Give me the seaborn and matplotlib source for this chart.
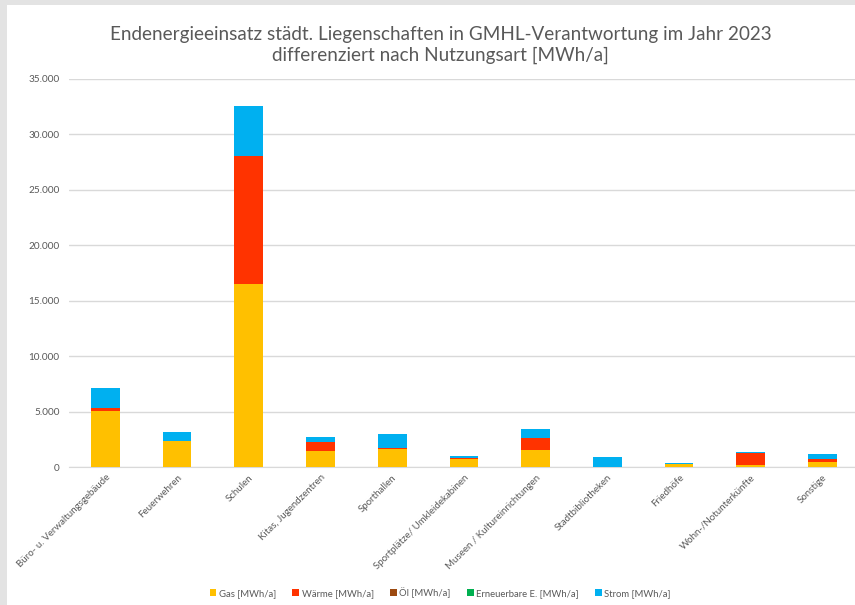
import matplotlib
matplotlib.use("Agg")
import matplotlib.pyplot as plt
import matplotlib.ticker as mticker
from matplotlib.patches import Rectangle
import numpy as np
import seaborn as sns

categories = ["Büro- u. Verwaltungsgebäude", "Feuerwehren", "Schulen",
              "Kitas, Jugendzentren", "Sporthallen", "Sportplätze/ Umkleidekabinen",
              "Museen / Kultureinrichtungen", "Stadtbibliotheken", "Friedhöfe",
              "Wohn-/Notunterkünfte", "Sonstige"]

gas = [5100, 2400, 16500, 1500, 1650, 800, 1550, 0, 350, 250, 470]
waerme = [280, 0, 11550, 780, 120, 80, 1080, 0, 0, 1050, 270]
oel = [0, 0, 0, 0, 0, 0, 0, 0, 0, 0, 0]
erneuerbare = [0, 0, 0, 0, 0, 0, 0, 0, 0, 0, 0]
strom = [1750, 780, 4500, 500, 1200, 150, 840, 900, 90, 70, 450]

series = [
    ("Gas [MWh/a]", gas, "#FFC000"),
    ("Wärme [MWh/a]", waerme, "#FF3300"),
    ("Öl [MWh/a]", oel, "#9C4A10"),
    ("Erneuerbare E. [MWh/a]", erneuerbare, "#00B050"),
    ("Strom [MWh/a]", strom, "#00B0F0"),
]

sns.set_style("white")
plt.rcParams["font.family"] = ["Lato", "DejaVu Sans"]
text_col = "#595959"

fig = plt.figure(figsize=(8.55, 6.05), dpi=100)
# grey frame on the left/top like the screenshot
fig.patches.append(Rectangle((0, 0), 1, 1, transform=fig.transFigure,
                             facecolor="#E3E3E3", edgecolor="none", zorder=-2))
fig.patches.append(Rectangle((7 / 855, 0), 1, 1 - 5 / 605, transform=fig.transFigure,
                             facecolor="white", edgecolor="none", zorder=-1))

ax = fig.add_axes([69.4 / 855, 0.2273, 789 / 855, 0.6429])
ax.set_facecolor("none")

bottom = np.zeros(len(categories))
for name, vals, col in series:
    sns.barplot(x=categories, y=vals, bottom=bottom, color=col, width=0.4,
                saturation=1, ax=ax, label=name, linewidth=0, zorder=3)
    bottom = bottom + np.array(vals)

handles, labels = ax.get_legend_handles_labels()
if ax.get_legend() is not None:
    ax.get_legend().remove()

ax.set_ylim(0, 35000)
ax.set_xlim(-0.5, len(categories) - 0.5)
ax.yaxis.set_major_locator(mticker.MultipleLocator(5000))
ax.yaxis.set_major_formatter(mticker.FuncFormatter(lambda v, p: f"{int(v):,}".replace(",", ".")))
ax.grid(axis="y", color="#D9D9D9", linewidth=1, zorder=0)
for s in ["top", "right", "left"]:
    ax.spines[s].set_visible(False)
ax.spines["bottom"].set_color("#D9D9D9")
ax.tick_params(axis="y", length=0, labelsize=7.2, labelcolor=text_col, pad=7)
ax.tick_params(axis="x", length=0, labelsize=7, labelcolor=text_col, pad=4)
plt.setp(ax.get_xticklabels(), rotation=45, ha="right", rotation_mode="anchor")

fig.text(0.515, 0.925, "Endenergieeinsatz städt. Liegenschaften in GMHL-Verantwortung im Jahr 2023\n"
         "differenziert nach Nutzungsart [MWh/a]", ha="center", va="center",
         fontsize=13.6, color=text_col, linespacing=1.25)

fig.legend(handles, labels, loc="center", bbox_to_anchor=(0.515, 0.021), ncol=5,
           frameon=False, fontsize=6.8, labelcolor=text_col, handlelength=0.7,
           handleheight=0.7, handletextpad=0.3, columnspacing=1.7)

fig.savefig("out.png", dpi=100)
